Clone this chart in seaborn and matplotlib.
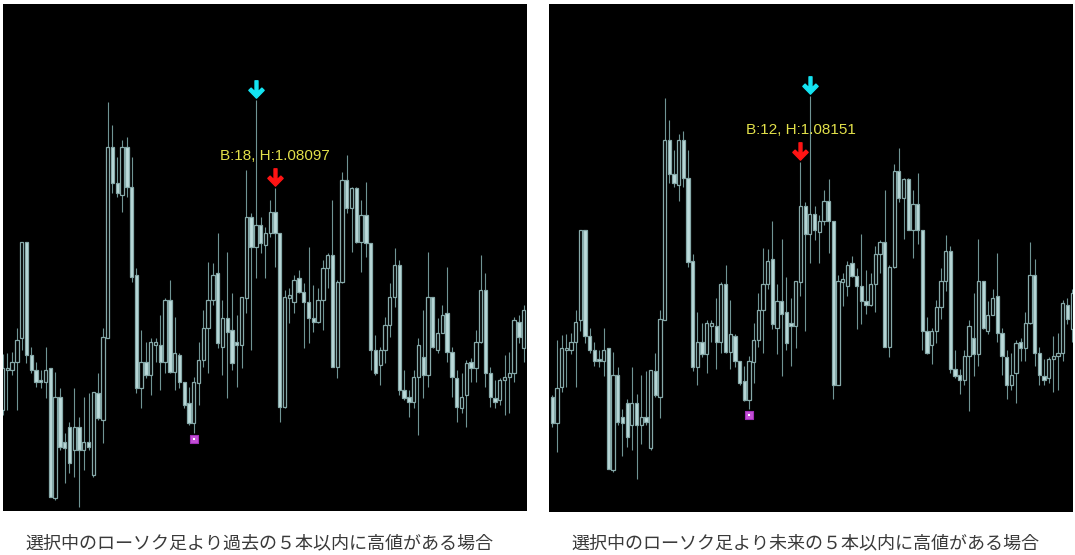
import numpy as np
import pandas as pd
import matplotlib
matplotlib.use('Agg')
import matplotlib.pyplot as plt
import matplotlib.transforms as mtransforms
from matplotlib.path import Path
import seaborn as sns

# 足の番号（-2 から 109 まで）と四本値（ポイント, 1.07131 からの差）
bar_ids = list(range(-2, 110))
BASE = 1.07131

open_pts = [270, 186, 300, 420, 420, 444, 516, 804, 465, 420, 390, 384, 426, 36, 339, 204,
            249, 180, 249, 180, 204, 105, 351, 270, 516, 1089, 981, 945, 1089, 969, 705, 366,
            444, 405, 495, 495, 444, 630, 414, 465, 384, 321, 261, 381, 450, 546, 630, 711,
            489, 576, 540, 504, 495, 636, 879, 789, 855, 795, 831, 894, 831, 309, 636, 624,
            696, 654, 624, 576, 564, 630, 726, 765, 429, 684, 990, 906, 966, 804, 885, 801,
            480, 435, 480, 555, 639, 735, 360, 339, 324, 399, 459, 405, 639, 480, 531, 591,
            474, 396, 306, 345, 444, 426, 504, 660, 411, 336, 330, 390, 399, 411, 564, 486]
close_pts = [186, 297, 426, 426, 444, 510, 804, 465, 420, 384, 384, 420, 39, 339, 189, 186,
             141, 249, 180, 204, 189, 354, 276, 519, 1089, 981, 951, 1089, 969, 699, 366, 444,
             405, 504, 504, 444, 630, 414, 471, 384, 315, 261, 384, 450, 546, 630, 705, 501,
             576, 534, 441, 495, 639, 879, 789, 855, 801, 831, 894, 831, 309, 639, 645, 690,
             654, 624, 576, 564, 630, 726, 765, 429, 684, 990, 906, 966, 804, 885, 801, 480,
             411, 480, 555, 639, 735, 360, 336, 324, 399, 495, 405, 639, 489, 531, 585, 474,
             399, 309, 339, 441, 426, 504, 660, 411, 339, 324, 390, 399, 411, 570, 519, 600]
high_pts = [276, 450, 468, 471, 474, 546, 804, 804, 489, 444, 420, 489, 426, 414, 366, 231,
            264, 366, 279, 339, 351, 354, 411, 546, 1224, 1155, 1059, 1110, 1119, 1059, 726, 540,
            504, 516, 516, 585, 636, 690, 579, 471, 384, 369, 399, 504, 600, 744, 741, 831,
            630, 774, 651, 585, 639, 1020, 891, 1230, 879, 849, 930, 966, 831, 660, 666, 705,
            720, 681, 789, 675, 666, 750, 771, 930, 690, 1014, 1065, 969, 969, 930, 984, 801,
            525, 489, 579, 681, 786, 750, 420, 360, 420, 516, 600, 774, 639, 576, 615, 729,
            489, 420, 411, 450, 456, 540, 765, 711, 429, 390, 396, 465, 474, 579, 585, 615]
low_pts = [174, 93, 285, 300, 405, 300, 480, 441, 411, 369, 366, 336, 39, 30, 180, 81,
           111, 99, 9, 120, 180, 99, 270, 201, 516, 951, 939, 894, 939, 684, 351, 306,
           396, 345, 444, 360, 411, 411, 360, 366, 306, 255, 231, 315, 429, 411, 615, 486,
           405, 336, 420, 369, 426, 591, 480, 696, 771, 696, 819, 729, 264, 306, 561, 591,
           651, 486, 501, 534, 561, 540, 666, 429, 396, 681, 891, 774, 801, 714, 759, 420,
           405, 375, 441, 519, 609, 345, 330, 279, 306, 225, 336, 369, 486, 471, 531, 444,
           339, 264, 291, 249, 384, 384, 501, 369, 309, 306, 315, 285, 291, 384, 501, 444]

selected_bar = 53          # 水色の矢印
low_bar = 40               # 紫の印
red_bars = [57, 51]        # 赤い矢印（左, 右）
bar_counts = [18, 12]
captions = ['選択中のローソク足より過去の５本以内に高値がある場合',
            '選択中のローソク足より未来の５本以内に高値がある場合']

df = pd.DataFrame({'bar': bar_ids,
                   'open': BASE + np.array(open_pts) * 1e-5,
                   'high': BASE + np.array(high_pts) * 1e-5,
                   'low': BASE + np.array(low_pts) * 1e-5,
                   'close': BASE + np.array(close_pts) * 1e-5}).set_index('bar', drop=False)

sns.set_style('dark', {'axes.facecolor': 'black', 'figure.facecolor': 'white'})

WICK = '#6f9494'
EDGE = '#86a9a9'
FILL = '#bddcdc'

# 太い下向き矢印
arrow = Path([(-0.17, 1.0), (0.17, 1.0), (0.17, -0.28), (0.62, 0.16), (0.88, -0.1),
              (0.0, -1.0), (-0.88, -0.1), (-0.62, 0.16), (-0.17, -0.28), (-0.17, 1.0)],
             [Path.MOVETO] + [Path.LINETO] * 8 + [Path.CLOSEPOLY])

fig = plt.figure(figsize=(10.75, 5.55), dpi=100)
axes = [fig.add_axes([3 / 1075, 44.3 / 555, 524 / 1075, 506.7 / 555]),
        fig.add_axes([549 / 1075, 43.3 / 555, 524 / 1075, 507.7 / 555])]
xlims = [(0.1, 109.7), (-2.69, 109.18)]
ylims = [(BASE - 0.00002, BASE + 0.01518), (BASE - 0.00097, BASE + 0.01524)]


def shifted(ax, px):
    return mtransforms.offset_copy(ax.transData, fig=fig, x=0, y=px, units='dots')


for k, ax in enumerate(axes):
    ax.set_facecolor('black')
    ax.vlines(df['bar'], df['low'], df['high'], color=WICK, lw=0.8, zorder=1)
    up = df['close'] >= df['open']
    bottom = df[['open', 'close']].min(axis=1)
    height = (df['close'] - df['open']).abs().clip(lower=0.00002)
    ax.bar(df['bar'][up], height[up], bottom=bottom[up], width=0.7,
           color='black', edgecolor=EDGE, lw=0.9, zorder=2)
    ax.bar(df['bar'][~up], height[~up], bottom=bottom[~up], width=0.7,
           color=FILL, edgecolor=EDGE, lw=0.9, zorder=2)

    # 選択中の足
    ax.plot(selected_bar, df.loc[selected_bar, 'high'], marker=arrow, ms=12.5,
            color='#14e4f2', ls='none', transform=shifted(ax, 11), zorder=4)
    # 高値の足
    rb = red_bars[k]
    ax.plot(rb, df.loc[rb, 'high'], marker=arrow, ms=12.5,
            color='#ff1414', ls='none', transform=shifted(ax, 11), zorder=4)
    ax.text(rb, df.loc[rb, 'high'], f'B:{bar_counts[k]}, H:{df.loc[rb, "high"]:.5f}',
            transform=shifted(ax, 32), ha='center', va='center', color='#e2e04a',
            fontsize=11, family=['Liberation Sans', 'DejaVu Sans'], zorder=4)
    # 安値の印
    sns.scatterplot(x=[low_bar], y=[df.loc[low_bar, 'low']], marker='s', s=30,
                    color='#c34fd6', edgecolor='#a030b8', linewidth=0.8,
                    transform=shifted(ax, -6), ax=ax, zorder=4, legend=False)
    sns.scatterplot(x=[low_bar], y=[df.loc[low_bar, 'low']], marker='s', s=3,
                    color='white', linewidth=0, transform=shifted(ax, -6), ax=ax,
                    zorder=5, legend=False)

    ax.set_xlim(*xlims[k])
    ax.set_ylim(*ylims[k])
    ax.set_xticks([])
    ax.set_yticks([])
    ax.set_xlabel('')
    ax.set_ylabel('')
    for sp in ax.spines.values():
        sp.set_visible(False)

fig.text(259.5 / 1075, 1 - 543 / 555, captions[0], ha='center', va='center',
         fontsize=13, color='#3a3a3a', family=['Noto Sans CJK JP', 'DejaVu Sans'])
fig.text(805 / 1075, 1 - 543 / 555, captions[1], ha='center', va='center',
         fontsize=13, color='#3a3a3a', family=['Noto Sans CJK JP', 'DejaVu Sans'])

fig.savefig('out.png', dpi=100, facecolor='white')
